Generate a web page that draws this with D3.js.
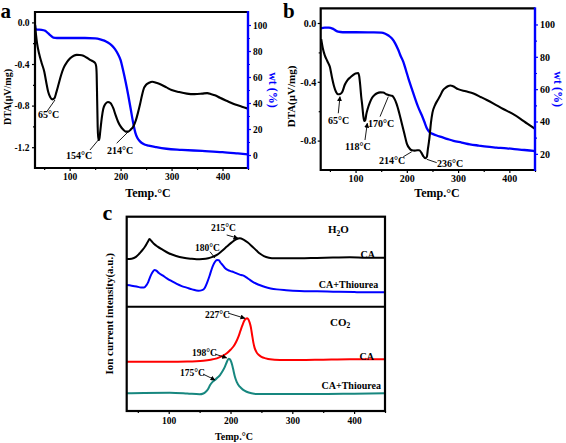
<!DOCTYPE html>
<html><head><meta charset="utf-8">
<script src="https://cdn.jsdelivr.net/npm/d3@7"></script>
<style>
body{margin:0;background:#fff}
svg{display:block}
text{font-family:'Liberation Serif','Times New Roman',serif;font-weight:bold}
</style>
</head><body>
<svg id="chart" width="566" height="443"></svg>
<script>
// ---------------- DATA ----------------
const tempDomain = [32, 450];
const tempTicks = [100, 200, 300, 400];
const tempMinor = [50, 150, 250, 350, 450];

const dtaTicksA = [0.0, -0.4, -0.8, -1.2];
const dtaMinorA = [-0.2, -0.6, -1.0];
const wtTicksA = [0, 20, 40, 60, 80, 100];
const wtMinorA = [10, 30, 50, 70, 90];

const dtaTicksB = [0.0, -0.4, -0.8];
const dtaMinorB = [-0.2, -0.6];
const wtTicksB = [20, 40, 60, 80, 100];
const wtMinorB = [30, 50, 70, 90];

// Panel a: DTA (µV/mg) vs temperature
const dtaA = [[32,-0.02],[34,-0.12],[36,-0.2],[40,-0.3],[45,-0.39],[50,-0.47],[55,-0.6],[58,-0.67],[62,-0.72],[66,-0.74],[70,-0.73],[74,-0.67],[78,-0.6],[83,-0.51],[88,-0.44],[95,-0.38],[101,-0.345],[108,-0.32],[114,-0.312],[120,-0.313],[127,-0.32],[134,-0.34],[140,-0.36],[146,-0.375],[150,-0.39],[152,-0.42],[153,-0.5],[154,-0.75],[155,-1.0],[156,-1.13],[158,-1.13],[160,-1.05],[163,-0.92],[166,-0.83],[170,-0.785],[175,-0.765],[180,-0.775],[186,-0.83],[190,-0.89],[195,-0.955],[200,-1.0],[205,-1.03],[210,-1.05],[215,-1.05],[220,-1.03],[225,-1.0],[230,-0.94],[234,-0.87],[238,-0.79],[242,-0.7],[246,-0.63],[250,-0.6],[256,-0.58],[262,-0.57],[270,-0.58],[280,-0.6],[290,-0.625],[300,-0.65],[315,-0.67],[330,-0.685],[345,-0.69],[360,-0.685],[370,-0.68],[378,-0.69],[385,-0.70],[395,-0.725],[411,-0.76],[425,-0.79],[438,-0.81],[450,-0.83]];
// Panel a: weight (%)
const wtA = [[32,100],[33,97],[36,96.5],[45,96.3],[52,95.5],[58,93.5],[64,91.5],[68,90.3],[75,90],[100,90],[130,90],[150,89.7],[160,89],[168,88],[175,86.5],[182,84.5],[189,81.5],[195,77.5],[200,73],[205,65],[210,56],[215,46],[220,35],[225,24],[229,17],[233,13],[238,10.5],[245,8.5],[255,7.2],[270,6],[290,4.8],[320,4],[360,3.1],[400,2.2],[430,1.2],[450,0.5]];

// Panel b
const dtaB = [[33,-0.11],[36,-0.17],[40,-0.22],[45,-0.26],[50,-0.3],[54,-0.37],[58,-0.43],[62,-0.47],[66,-0.485],[70,-0.483],[74,-0.47],[79,-0.42],[84,-0.39],[89,-0.372],[95,-0.355],[100,-0.343],[105,-0.34],[107,-0.36],[109,-0.42],[111,-0.5],[113,-0.56],[115,-0.63],[117,-0.667],[119,-0.66],[121,-0.62],[124,-0.58],[128,-0.54],[132,-0.51],[137,-0.49],[142,-0.478],[148,-0.472],[154,-0.473],[160,-0.485],[166,-0.492],[171,-0.495],[175,-0.51],[180,-0.55],[185,-0.61],[190,-0.68],[195,-0.75],[200,-0.82],[205,-0.852],[210,-0.866],[215,-0.868],[220,-0.866],[224,-0.866],[228,-0.88],[232,-0.905],[236,-0.92],[239,-0.91],[241,-0.86],[244,-0.785],[247,-0.68],[250,-0.61],[255,-0.558],[260,-0.525],[265,-0.495],[270,-0.46],[275,-0.442],[280,-0.43],[285,-0.425],[290,-0.43],[300,-0.45],[315,-0.465],[330,-0.48],[345,-0.505],[356,-0.524],[370,-0.55],[388,-0.585],[405,-0.615],[421,-0.65],[435,-0.685],[450,-0.72]];
const wtB = [[32,97.6],[40,98],[48,98],[55,97.4],[60,96.5],[66,95.5],[75,95.2],[100,95.2],[130,95.1],[150,95],[158,94.3],[165,93],[171,91.3],[177,88.5],[183,84.5],[188,80.5],[193,77],[198,72],[203,66.7],[210,60],[216,54.3],[222,49],[229,44],[234,40],[239,35.8],[244,33.5],[249,32.5],[257,31.5],[265,30.6],[278,29.3],[291,28],[307,27],[323,25.9],[340,25.1],[356,24.4],[375,23.9],[395,23.4],[420,22.6],[447,21.8],[450,21.5]];

// Panel c: ion current (a.u., stacked)
const h2oCA = [[32,78.2],[40,78.4],[47,79.3],[53,81.2],[58,83],[62,84.8],[66,87],[69,88.5],[72,87.5],[76,86.1],[82,84.6],[90,83],[100,81.2],[112,79.8],[124,78.9],[135,78.4],[145,78.1],[155,78.2],[164,78.6],[171,79.3],[178,80.3],[186,82.3],[194,84.6],[202,86.8],[209,88.3],[215,88.9],[221,88.2],[228,86.7],[235,84.7],[242,82.6],[248,80.9],[254,79.7],[262,78.9],[272,78.6],[290,78.6],[312,78.6],[340,78.8],[370,79],[393,79.1],[420,78.9],[450,78.9]];
const h2oThio = [[32,64.8],[40,64.5],[48,64.1],[55,63.6],[60,63.6],[64,64.8],[67,66.5],[70,69],[73,71],[77,72.6],[80,72.2],[84,71],[90,69.8],[97,68.3],[105,66.8],[113,65.4],[121,64.3],[129,63.5],[138,62.6],[148,61.9],[154,62.2],[158,63.2],[162,66],[166,69.5],[169,72.5],[172,75.1],[175,76.8],[178,77.7],[181,77.6],[184,76.3],[187,75.2],[191,73.6],[196,72.5],[200,72],[205,71.5],[210,70.8],[215,70.2],[220,69.8],[225,68.9],[230,67.8],[236,66.5],[242,65.5],[248,64.7],[256,63.8],[265,63.1],[275,62.6],[290,62.2],[312,61.8],[340,61.6],[366,61.4],[400,61.2],[430,61.1],[450,61.1]];
const co2CA = [[32,25.4],[60,25.4],[100,25.4],[130,25.5],[156,25.9],[168,26.4],[178,27.1],[186,28.2],[194,29.7],[200,31.5],[205,33.3],[209,35.5],[213,38.4],[216,41.2],[219,43.9],[222,46.3],[225,47.5],[227,47.7],[229,47.1],[231,45.5],[233,43],[235,39],[237,35.2],[239,32.5],[242,30.3],[246,28.8],[250,27.9],[257,27.1],[264,26.6],[280,26.3],[312,26.2],[350,26.4],[393,26.6],[450,26.6]];
const co2Thio = [[32,9.1],[60,9.3],[102,9.4],[130,9.0],[150,8.6],[156,9.0],[160,9.9],[164,11.5],[167,13.4],[171,15],[175,16],[179,17.2],[183,18.5],[187,20.4],[191,22.8],[194,25.2],[197,26.9],[199,26.6],[201,25.4],[203,23.3],[205,20.5],[207,17.7],[210,15],[215,12.5],[220,11],[226,9.9],[234,9.1],[242,8.7],[260,8.7],[300,8.7],[339,8.7],[400,8.9],[450,9.1]];
const ionDivider = 53.7;

// Annotations (data coordinates: text anchor, leader line start/end)
const annA = [
  {label:"65°C",  tx:37.9,  ty:-0.919, x1:55.0,  y1:-0.859, x2:71.2,  y2:-0.746, arrow:false},
  {label:"154°C", tx:92.8,  ty:-1.313, x1:139.9, y1:-1.227, x2:156.2, y2:-1.131, arrow:false},
  {label:"214°C", tx:173.3, ty:-1.270, x1:192.3, y1:-1.162, x2:215.1, y2:-1.051, arrow:false}
];
const annB = [
  {label:"65°C",  tx:46.2,  ty:-0.687, x1:66.3,  y1:-0.614, x2:69.6,  y2:-0.501, arrow:true},
  {label:"118°C", tx:79.4,  ty:-0.861, x1:118.4, y1:-0.796, x2:122.9, y2:-0.682, arrow:true},
  {label:"170°C", tx:124.3, ty:-0.708, x1:147.7, y1:-0.637, x2:163.9, y2:-0.501, arrow:false},
  {label:"214°C", tx:145.7, ty:-0.959, x1:193.1, y1:-0.910, x2:209.5, y2:-0.876, arrow:false},
  {label:"236°C", tx:258.8, ty:-0.980, x1:258.3, y1:-0.950, x2:238.8, y2:-0.927, arrow:false}
];
const annC = [
  {label:"215°C", tx:168.4, ty:92.4, x1:193.8, y1:90.6, x2:212.1, y2:88.9, arrow:true},
  {label:"180°C", tx:142.5, ty:82.1, x1:166.8, y1:82.0, x2:174.9, y2:78.7, arrow:false},
  {label:"227°C", tx:158.7, ty:48.1, x1:195.9, y1:50.4, x2:223.4, y2:47.7, arrow:true},
  {label:"198°C", tx:137.7, ty:28.3, x1:174.9, y1:29.3, x2:193.8, y2:27.3, arrow:true},
  {label:"175°C", tx:118.3, ty:17.8, x1:155.5, y1:19.0, x2:174.9, y2:16.0, arrow:true}
];
const seriesLabelsC = [
  {label:"CA",          tx:433.8, ty:78.9},
  {label:"CA+Thiourea", tx:439.1, ty:63.3},
  {label:"CA",          tx:432.2, ty:26.2},
  {label:"CA+Thiourea", tx:443.5, ty:11.1}
];

// ---------------- DRAWING ----------------
const BLUE = "#0000ff", RED = "#ff0000", TEAL = "#17877f";
const svg = d3.select("#chart");
const defs = svg.append("defs");
defs.append("marker").attr("id","arr").attr("viewBox","0 0 10 10")
  .attr("refX",9).attr("refY",5).attr("markerWidth",5).attr("markerHeight",5)
  .attr("markerUnits","userSpaceOnUse").attr("orient","auto")
  .append("path").attr("d","M0,0L10,5L0,10z").attr("fill","#000");

function styleAxis(g, color, fs){
  g.select(".domain").remove();
  g.selectAll(".tick line").attr("stroke", color).attr("stroke-width", 1.2);
  g.selectAll(".tick text").attr("fill","#000").attr("font-size", fs)
    .attr("font-family","'Liberation Serif','Times New Roman',serif").attr("font-weight","bold");
  g.attr("font-family", null);
}

function addAnn(g, x, y, list, fs){
  list.forEach(a=>{
    g.append("text").attr("x", x(a.tx)).attr("y", y(a.ty)).attr("font-size", fs).text(a.label);
    const ln = g.append("line").attr("x1", x(a.x1)).attr("y1", y(a.y1))
      .attr("x2", x(a.x2)).attr("y2", y(a.y2)).attr("stroke","#000").attr("stroke-width",0.9);
    if (a.arrow) ln.attr("marker-end","url(#arr)");
  });
}

function dtaPanel(o){
  const x = d3.scaleLinear().domain(tempDomain).range([o.left, o.right]);
  const yL = d3.scaleLinear().domain(o.dtaDom).range([o.bottom, o.top]);
  const yR = d3.scaleLinear().domain(o.wtDom).range([o.bottom, o.top]);
  const g = svg.append("g");
  const cid = "clip" + o.id;
  defs.append("clipPath").attr("id", cid).append("rect")
    .attr("x", o.left).attr("y", o.top).attr("width", o.right - o.left).attr("height", o.bottom - o.top);
  const mk = ys => d3.line().x(d=>x(d[0])).y(d=>ys(d[1])).curve(d3.curveMonotoneX);
  const pg = g.append("g").attr("clip-path", `url(#${cid})`);
  pg.append("path").datum(o.wt).attr("d", mk(yR)).attr("fill","none").attr("stroke",BLUE).attr("stroke-width",2.3);
  pg.append("path").datum(o.dta).attr("d", mk(yL)).attr("fill","none").attr("stroke","#000").attr("stroke-width",2.1);

  // axes
  const fmt1 = d => d.toFixed(1);
  styleAxis(g.append("g").attr("transform",`translate(0,${o.bottom})`)
    .call(d3.axisBottom(x).tickValues(tempTicks).tickSize(3).tickPadding(o.bPad).tickFormat(d3.format("d"))), "#000", o.fs);
  styleAxis(g.append("g").attr("transform",`translate(0,${o.bottom})`)
    .call(d3.axisBottom(x).tickValues(tempMinor).tickSize(2).tickFormat("")), "#000", o.fs);
  styleAxis(g.append("g").attr("transform",`translate(${o.left},0)`)
    .call(d3.axisLeft(yL).tickValues(o.dtaTicks).tickSize(3).tickPadding(o.lPad).tickFormat(fmt1)), "#000", o.fs);
  styleAxis(g.append("g").attr("transform",`translate(${o.left},0)`)
    .call(d3.axisLeft(yL).tickValues(o.dtaMinor).tickSize(2).tickFormat("")), "#000", o.fs);
  styleAxis(g.append("g").attr("transform",`translate(${o.right},0)`)
    .call(d3.axisRight(yR).tickValues(o.wtTicks).tickSize(3).tickPadding(o.rPad).tickFormat(d3.format("d"))), BLUE, o.fs);
  styleAxis(g.append("g").attr("transform",`translate(${o.right},0)`)
    .call(d3.axisRight(yR).tickValues(o.wtMinor).tickSize(2).tickFormat("")), BLUE, o.fs);

  // frame
  g.append("path").attr("d",`M${o.right},${o.top}H${o.left}V${o.bottom}H${o.right}`)
    .attr("fill","none").attr("stroke","#000").attr("stroke-width",2.2);
  g.append("line").attr("x1",o.right).attr("x2",o.right).attr("y1",o.top-1).attr("y2",o.bottom+1)
    .attr("stroke",BLUE).attr("stroke-width",2.4);

  addAnn(g, x, yL, o.ann, o.annFs);

  // titles
  g.append("text").attr("transform",`translate(${o.lTitleX},${o.lTitleY}) rotate(-90)`)
    .attr("text-anchor","middle").attr("font-size", o.titleFs).text("DTA(μV/mg)");
  g.append("text").attr("transform",`translate(${o.rTitleX},${(o.top+o.bottom)/2}) rotate(90)`)
    .attr("text-anchor","middle").attr("font-size", 12).attr("fill",BLUE).text("wt (%)");
  g.append("text").attr("x", o.xTitleX).attr("y", o.xTitleY).attr("text-anchor","middle")
    .attr("font-size", 12).text("Temp.°C");
  g.append("text").attr("x", o.letterX).attr("y", 17.5).attr("font-size", 21)
    .attr("font-family","'Liberation Sans',Arial,sans-serif").attr("font-weight","bold").text(o.letter);
}

dtaPanel({id:"a", left:35, right:248, top:12, bottom:168, dtaDom:[-1.4,0.1], wtDom:[-10,110],
  dta:dtaA, wt:wtA, dtaTicks:dtaTicksA, dtaMinor:dtaMinorA, wtTicks:wtTicksA, wtMinor:wtMinorA,
  ann:annA, annFs:10, fs:9.5, bPad:2.3, lPad:2.5, rPad:2, titleFs:10,
  lTitleX:11, lTitleY:97, rTitleX:269, xTitleX:148, xTitleY:197, letter:"a", letterX:0.5});

dtaPanel({id:"b", left:320.7, right:535, top:8.3, bottom:170, dtaDom:[-1.0,0.1], wtDom:[10,110],
  dta:dtaB, wt:wtB, dtaTicks:dtaTicksB, dtaMinor:dtaMinorB, wtTicks:wtTicksB, wtMinor:wtMinorB,
  ann:annB, annFs:10, fs:10, bPad:1.5, lPad:1.5, rPad:2, titleFs:11,
  lTitleX:295, lTitleY:96.5, rTitleX:554, xTitleX:437, xTitleY:197, letter:"b", letterX:283});

// Panel c
(function(){
  const left = 126.7, right = 385, top = 216.7, bottom = 411;
  const x = d3.scaleLinear().domain(tempDomain).range([left, right]);
  const y = d3.scaleLinear().domain([0,100]).range([bottom, top]);
  const g = svg.append("g");
  defs.append("clipPath").attr("id","clipc").append("rect")
    .attr("x",left).attr("y",top).attr("width",right-left).attr("height",bottom-top);
  const line = d3.line().x(d=>x(d[0])).y(d=>y(d[1])).curve(d3.curveMonotoneX);
  const pg = g.append("g").attr("clip-path","url(#clipc)");
  [[h2oCA,"#000"],[h2oThio,BLUE],[co2CA,RED],[co2Thio,TEAL]].forEach(([d,c])=>{
    pg.append("path").datum(d).attr("d", line).attr("fill","none").attr("stroke",c).attr("stroke-width",2);
  });
  styleAxis(g.append("g").attr("transform",`translate(0,${bottom})`)
    .call(d3.axisBottom(x).tickValues(tempTicks).tickSize(3).tickPadding(3.3).tickFormat(d3.format("d"))), "#000", 9.5);
  styleAxis(g.append("g").attr("transform",`translate(0,${bottom})`)
    .call(d3.axisBottom(x).tickValues(tempMinor).tickSize(2).tickFormat("")), "#000", 9.5);
  g.append("rect").attr("x",left).attr("y",top).attr("width",right-left).attr("height",bottom-top)
    .attr("fill","none").attr("stroke","#000").attr("stroke-width",2.2);
  g.append("line").attr("x1",left).attr("x2",right).attr("y1",y(ionDivider)).attr("y2",y(ionDivider))
    .attr("stroke","#000").attr("stroke-width",2);

  addAnn(g, x, y, annC, 9.5);
  seriesLabelsC.forEach(s=>{
    g.append("text").attr("x",x(s.tx)).attr("y",y(s.ty)).attr("text-anchor","end").attr("font-size",10).text(s.label);
  });
  const h = g.append("text").attr("x",x(357.7)).attr("y",y(91.6)).attr("font-size",11);
  h.append("tspan").text("H");
  h.append("tspan").attr("font-size",7.5).attr("dy",2.5).text("2");
  h.append("tspan").attr("dy",-2.5).text("O");
  const c = g.append("text").attr("x",x(361)).attr("y",y(44)).attr("font-size",11);
  c.append("tspan").text("CO");
  c.append("tspan").attr("font-size",7.5).attr("dy",2.5).text("2");

  g.append("text").attr("transform",`translate(113,${(top+bottom)/2}) rotate(-90)`)
    .attr("text-anchor","middle").attr("font-size",11).text("Ion current intensity(a.u.)");
  g.append("text").attr("x",234).attr("y",440).attr("text-anchor","middle").attr("font-size",10).text("Temp.°C");
  g.append("text").attr("x",102.5).attr("y",220).attr("font-size",22)
    .attr("font-family","'Liberation Sans',Arial,sans-serif").attr("font-weight","bold").text("c");
})();
</script>
</body></html>
